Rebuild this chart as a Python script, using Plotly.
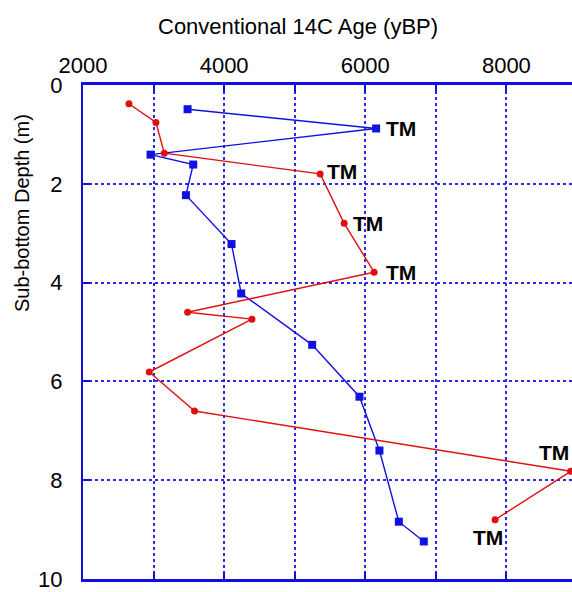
import plotly.graph_objects as go

# Blue series (squares)
blue_age = [3482, 6154, 2957, 3562, 3459, 4105, 4242, 5248, 5918, 6201, 6476, 6830]
blue_depth = [0.49, 0.88, 1.41, 1.61, 2.23, 3.22, 4.22, 5.26, 6.31, 7.40, 8.84, 9.24]

# Red series (circles)
red_age = [2651, 3034, 3152, 5361, 5701, 6126, 3482, 4394, 2939, 3581, 8912, 7840]
red_depth = [0.38, 0.76, 1.38, 1.80, 2.80, 3.79, 4.60, 4.74, 5.81, 6.60, 7.82, 8.80]

# "TM" labelled points
tm_age = [6154, 5361, 5701, 6126, 8912, 7840]
tm_depth = [0.88, 1.80, 2.80, 3.79, 7.82, 8.80]
tm_anchor = ["left", "left", "left", "left", "right", "center"]
tm_xshift = [8, 5, 7, 10, 0, -7]
tm_yshift = [0, 2, 0, 0, 19, -18]

x_tickvals = [2000, 4000, 6000, 8000]
y_tickvals = [0, 2, 4, 6, 8, 10]

BLUE = "#1010e0"
RED = "#e01010"
GRID = "#2a2ae8"
FONT = "Liberation Sans, Arial, sans-serif"

fig = go.Figure()
fig.add_trace(go.Scatter(
    x=blue_age, y=blue_depth, mode="lines+markers",
    line=dict(color=BLUE, width=1.4),
    marker=dict(symbol="square", size=8, color=BLUE),
    showlegend=False,
))
fig.add_trace(go.Scatter(
    x=red_age, y=red_depth, mode="lines+markers",
    line=dict(color=RED, width=1.4),
    marker=dict(symbol="circle", size=7, color=RED),
    showlegend=False,
))

annotations = []
for a, d, anc, xs, ys in zip(tm_age, tm_depth, tm_anchor, tm_xshift, tm_yshift):
    annotations.append(dict(
        x=a, y=d, xref="x", yref="y", text="<b>TM</b>", showarrow=False,
        xanchor=anc, yanchor="middle", xshift=xs, yshift=ys,
        font=dict(family=FONT, size=21, color="black"),
    ))

# Axis titles
annotations.append(dict(
    x=(298 - 83) / 489, y=(579 - 27) / 494, xref="paper", yref="paper",
    text="Conventional 14C Age (yBP)", showarrow=False,
    xanchor="center", yanchor="middle",
    font=dict(family=FONT, size=22, color="black"),
))
annotations.append(dict(
    x=(22 - 83) / 489, y=(579 - 213) / 494, xref="paper", yref="paper",
    text="Sub-bottom Depth (m)", showarrow=False, textangle=-90,
    xanchor="center", yanchor="middle",
    font=dict(family=FONT, size=20, color="black"),
))

fig.update_layout(
    width=572, height=592,
    margin=dict(l=83, r=0, t=85, b=13),
    paper_bgcolor="white", plot_bgcolor="white",
    font=dict(family=FONT, size=22, color="black"),
    annotations=annotations,
    xaxis=dict(
        side="top", range=[2000, 8930], automargin=False,
        tickvals=x_tickvals, ticks="inside", ticklen=7, tickwidth=1.5,
        tickcolor=BLUE,
        showline=True, linecolor=BLUE, linewidth=2.5, mirror="ticks",
        showgrid=True, gridcolor=GRID, gridwidth=1.5, griddash="dot",
        minor=dict(dtick=1000, tick0=2000, showgrid=True, gridcolor=GRID,
                   gridwidth=1.5, griddash="dot", ticks="inside",
                   ticklen=7, tickcolor=BLUE),
        zeroline=False, ticklabelstandoff=0,
        tickfont=dict(family=FONT, size=22, color="black"),
    ),
    yaxis=dict(
        range=[10, 0], automargin=False,
        tickvals=y_tickvals, ticks="inside", ticklen=7, tickwidth=1.5,
        tickcolor=BLUE,
        showline=True, linecolor=BLUE, linewidth=2, mirror=False,
        showgrid=True, gridcolor=GRID, gridwidth=1.5, griddash="dot",
        zeroline=False, ticklabelstandoff=14,
        tickfont=dict(family=FONT, size=22, color="black"),
    ),
)

fig.write_html(
    "out.html",
    config={"displayModeBar": False},
    post_script="document.body.style.margin='0';document.body.style.overflow='hidden';",
)
